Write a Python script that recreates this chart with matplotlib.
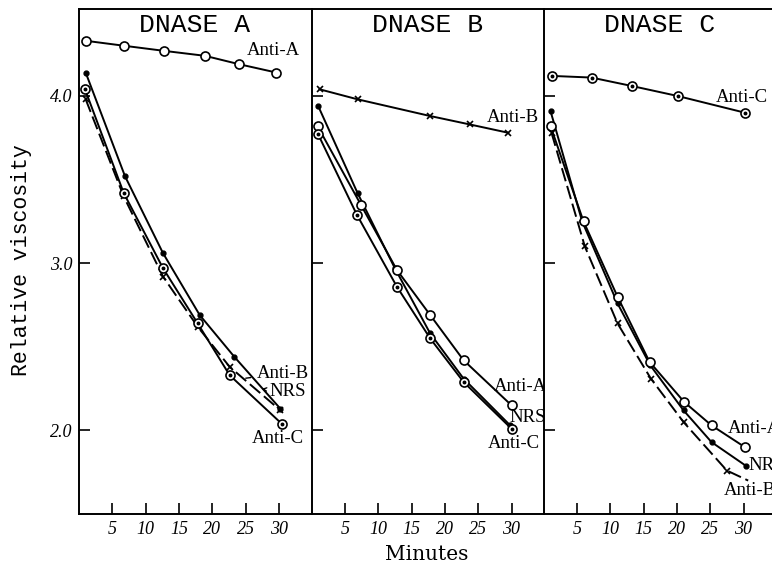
import matplotlib
matplotlib.use('Agg')
import matplotlib.pyplot as plt

# minutes / relative viscosity
a_antiA_t = [1.0, 6.8, 12.7, 18.9, 24.0, 29.6]
a_antiA = [4.33, 4.30, 4.27, 4.24, 4.19, 4.14]
a_nrs_t = [1.0, 6.9, 12.6, 18.1, 23.3, 30.2]
a_nrs = [4.14, 3.52, 3.06, 2.69, 2.44, 2.13]
a_antiB_t = [1.0, 6.7, 12.6, 17.8, 22.6, 30.2]
a_antiB = [3.98, 3.40, 2.92, 2.62, 2.38, 2.12]
a_antiC_t = [0.9, 6.7, 12.6, 17.8, 22.6, 30.4]
a_antiC = [4.04, 3.42, 2.97, 2.64, 2.33, 2.04]

b_antiB_t = [1.2, 6.9, 17.8, 23.7, 29.5]
b_antiB = [4.04, 3.98, 3.88, 3.83, 3.78]
b_nrs_t = [1.0, 6.9, 12.5, 17.8, 22.8, 29.8]
b_nrs = [3.94, 3.42, 2.97, 2.58, 2.31, 2.03]
b_antiA_t = [0.9, 7.4, 12.8, 17.8, 22.8, 30.0]
b_antiA = [3.82, 3.35, 2.96, 2.69, 2.42, 2.15]
b_antiC_t = [1.0, 6.8, 12.8, 17.8, 22.8, 30.0]
b_antiC = [3.77, 3.29, 2.86, 2.55, 2.29, 2.01]

c_antiC_t = [1.2, 7.2, 13.2, 20.1, 30.2]
c_antiC = [4.12, 4.11, 4.06, 4.00, 3.90]
c_nrs_t = [1.05, 5.8, 11.1, 16.0, 21.0, 25.2, 30.3]
c_nrs = [3.91, 3.25, 2.76, 2.39, 2.12, 1.93, 1.79]
c_antiA_t = [1.05, 6.0, 11.1, 15.9, 21.1, 25.2, 30.2]
c_antiA = [3.82, 3.25, 2.80, 2.41, 2.17, 2.03, 1.90]
c_antiB_t = [1.2, 6.2, 11.1, 16.1, 21.0, 27.5, 30.7]
c_antiB = [3.78, 3.10, 2.64, 2.31, 2.05, 1.76, 1.70]

titles = ['DNASE A', 'DNASE B', 'DNASE C']
xticks = [5, 10, 15, 20, 25, 30]
yticks = [2.0, 3.0, 4.0]

serif = 'Liberation Serif'
mono = 'Liberation Mono'
lw = 1.4


def open_circle(ax, t, v):
    ax.plot(t, v, '-', color='black', lw=lw, marker='o', ms=6.5,
            mfc='white', mec='black', mew=1.2, zorder=3)


def dot_circle(ax, t, v):
    open_circle(ax, t, v)
    ax.plot(t, v, 'o', color='black', ms=1.8, zorder=4)


def filled(ax, t, v):
    ax.plot(t, v, '-', color='black', lw=lw, marker='o', ms=3.5, zorder=3)


def crosses(ax, t, v, last_marked=True, dashed=True):
    n = len(t) if last_marked else len(t) - 1
    ls = (0, (7, 2.5)) if dashed else '-'
    ax.plot(t, v, color='black', lw=lw, linestyle=ls,
            marker='x', ms=5, mew=1.2, markevery=list(range(n)), zorder=3)


fig = plt.figure(figsize=(7.72, 5.68), dpi=100)
w = 232 / 772
h = 505 / 568
bottom = 54 / 568
lefts = [79 / 772, 311.5 / 772, 543.5 / 772]
axes = [fig.add_axes([l, bottom, w, h]) for l in lefts]

for i, ax in enumerate(axes):
    ax.set_xlim(0, 34.8)
    ax.set_ylim(1.5, 4.52)
    ax.set_xticks(xticks)
    ax.set_yticks(yticks)
    ax.tick_params(direction='in', length=8, width=1.2, top=False, right=False,
                   labelsize=13, pad=5)
    for lab in ax.get_xticklabels() + ax.get_yticklabels():
        lab.set_family(serif)
        lab.set_style('italic')
    if i == 0:
        ax.set_yticklabels(['2.0', '3.0', '4.0'])
    else:
        ax.set_yticklabels([])
    for s in ax.spines.values():
        s.set_linewidth(1.4)
    ax.spines['right'].set_visible(False)
    ax.text(0.5, 0.968, titles[i], transform=ax.transAxes, ha='center', va='center',
            family=mono, fontsize=19)

# panel A
ax = axes[0]
open_circle(ax, a_antiA_t, a_antiA)
filled(ax, a_nrs_t, a_nrs)
crosses(ax, a_antiB_t, a_antiB)
dot_circle(ax, a_antiC_t, a_antiC)
tf = dict(family=serif, fontsize=13.5)
ax.text(25.2, 4.27, 'Anti-A', ha='left', va='center', **tf)
ax.annotate('Anti-B', xy=(24.6, 2.31), xytext=(26.6, 2.34), ha='left', va='center',
            arrowprops=dict(arrowstyle='-', lw=1, color='black'), **tf)
ax.annotate('NRS', xy=(27.0, 2.25), xytext=(28.6, 2.23), ha='left', va='center',
            arrowprops=dict(arrowstyle='->', lw=1, color='black',
                            mutation_scale=6), **tf)
ax.text(29.9, 1.95, 'Anti-C', ha='center', va='center', **tf)

# panel B
ax = axes[1]
crosses(ax, b_antiB_t, b_antiB, dashed=False)
filled(ax, b_nrs_t, b_nrs)
open_circle(ax, b_antiA_t, b_antiA)
dot_circle(ax, b_antiC_t, b_antiC)
ax.text(30.2, 3.87, 'Anti-B', ha='center', va='center', **tf)
ax.text(31.3, 2.26, 'Anti-A', ha='center', va='center', **tf)
ax.text(32.5, 2.08, 'NRS', ha='center', va='center', **tf)
ax.text(30.3, 1.92, 'Anti-C', ha='center', va='center', **tf)

# panel C (right edge of the figure cuts through it, as in the original)
ax = axes[2]
dot_circle(ax, c_antiC_t, c_antiC)
filled(ax, c_nrs_t, c_nrs)
open_circle(ax, c_antiA_t, c_antiA)
crosses(ax, c_antiB_t, c_antiB, last_marked=False)
ax.text(25.8, 3.99, 'Anti-C', ha='left', va='center', **tf)
ax.text(27.7, 2.01, 'Anti-A', ha='left', va='center', **tf)
ax.text(30.7, 1.79, 'NRS', ha='left', va='center', **tf)
ax.text(27.0, 1.64, 'Anti-B', ha='left', va='center', **tf)

fig.text(22 / 772, 1 - 260 / 568, 'Relative viscosity', rotation=90, ha='center',
         va='center', family=mono, fontsize=15.5)
fig.text(427 / 772, 1 - 555 / 568, 'Minutes', ha='center', va='center',
         family='DejaVu Serif', fontsize=14.5)

fig.savefig('out.png', dpi=100)
